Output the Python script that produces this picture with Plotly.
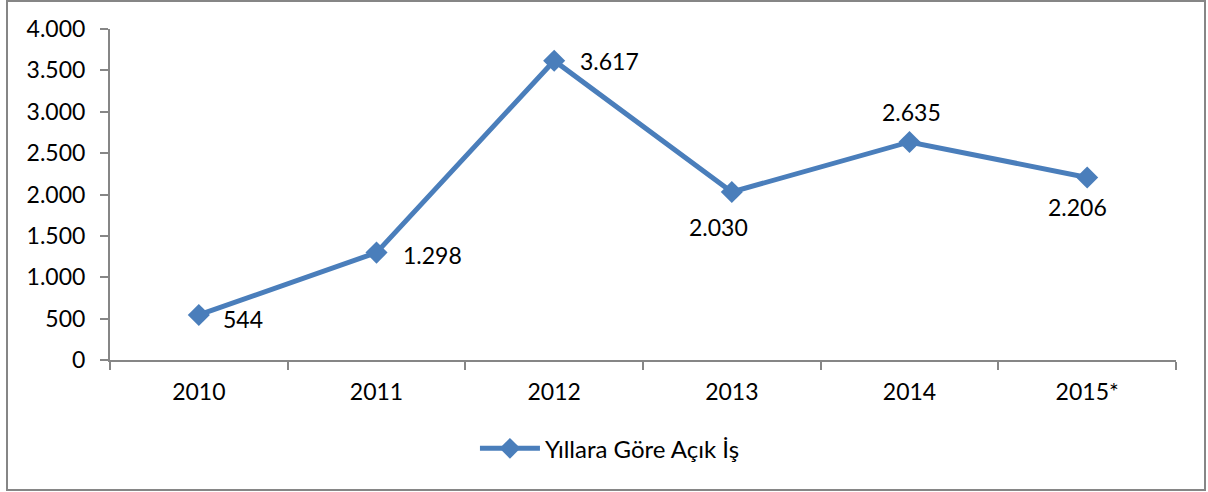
import plotly.graph_objects as go

years = ["2010", "2011", "2012", "2013", "2014", "2015*"]
values = [544, 1298, 3617, 2030, 2635, 2206]
labels = ["544", "1.298", "3.617", "2.030", "2.635", "2.206"]
series_name = "Yıllara Göre Açık İş"
y_ticks = [0, 500, 1000, 1500, 2000, 2500, 3000, 3500, 4000]
y_tick_text = ["0", "500", "1.000", "1.500", "2.000", "2.500", "3.000", "3.500", "4.000"]

# label placement per point: (xanchor, yanchor, xshift, yshift)
label_pos = [
    ("left", "middle", 22, -4),
    ("left", "middle", 24, -2),
    ("left", "middle", 24, 0),
    ("center", "top", -13, -19),
    ("center", "bottom", 2, 14),
    ("center", "top", -10, -14),
]

BLUE = "#4A7EBB"
FONT = "Lato"
FS = 23

fig = go.Figure()
fig.add_trace(go.Scatter(
    x=years, y=values, mode="lines+markers", name=series_name,
    line=dict(color=BLUE, width=5),
    marker=dict(symbol="diamond", size=17, color=BLUE),
))

for i, (yv, t, (xa, ya, xs, ys)) in enumerate(zip(values, labels, label_pos)):
    fig.add_annotation(x=i, y=yv, text=t, showarrow=False,
                       xanchor=xa, yanchor=ya, xshift=xs, yshift=ys,
                       font=dict(family=FONT, size=FS, color="black"))

fig.update_layout(
    width=1208, height=492,
    margin=dict(l=110, r=32, t=29, b=132),
    paper_bgcolor="white", plot_bgcolor="white",
    font=dict(family=FONT, size=FS, color="black"),
    showlegend=True,
    legend=dict(orientation="h", x=0.469, xanchor="center", y=-0.2, yanchor="top",
                itemwidth=60,
                font=dict(family=FONT, size=24, color="black")),
    xaxis=dict(type="category", showgrid=False, showline=True, linecolor="#868686",
               linewidth=2, ticks="outside", tickson="boundaries", ticklen=8,
               tickcolor="#868686", tickwidth=2, range=[-0.5, 5.5], zeroline=False,
               ticklabelstandoff=10),
    yaxis=dict(range=[0, 4000], tickvals=y_ticks, ticktext=y_tick_text, showgrid=False,
               showline=True, linecolor="#868686", linewidth=2, ticks="outside",
               ticklen=8, tickcolor="#868686", tickwidth=2, zeroline=False,
               ticklabelstandoff=10),
    shapes=[dict(type="rect", xref="paper", yref="paper",
                 x0=(7 - 110) / 1066, x1=(1205 - 110) / 1066,
                 y0=(360 - 490) / 331, y1=(360 - 1) / 331,
                 line=dict(color="#868686", width=2), fillcolor="rgba(0,0,0,0)",
                 layer="below")],
)

fig.write_html("out.html", config={"displayModeBar": False},
               post_script="document.body.style.margin='0';")
